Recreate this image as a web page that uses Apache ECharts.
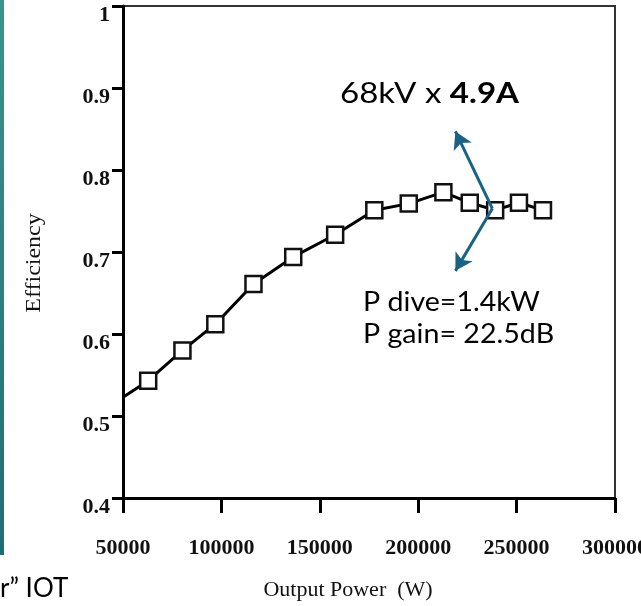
<!DOCTYPE html>
<html>
<head>
<meta charset="utf-8">
<script src="https://cdn.jsdelivr.net/npm/echarts@6/dist/echarts.min.js"></script>
<style>
html,body{margin:0;padding:0;background:#fff;}
#chart{width:641px;height:606px;}
</style>
</head>
<body>
<div id="chart"></div>
<script>
// Data
const powerW = [50000, 62800, 80200, 96900, 116300, 136500, 157800, 177700, 195200, 212800, 226200, 239100, 251200, 263400];
const efficiency = [0.523, 0.543, 0.580, 0.612, 0.661, 0.694, 0.721, 0.751, 0.759, 0.773, 0.760, 0.751, 0.760, 0.751];
const xTicks = [50000, 100000, 150000, 200000, 250000, 300000];
const yTicks = [0.4, 0.5, 0.6, 0.7, 0.8, 0.9, 1];
// Annotation arrows (data coordinates): vertex and two tips
const arrowVertex = [237700, 0.753];
const arrowTips = [[218900, 0.847], [218900, 0.677]];
const titleText = ['68kV x ', '4.9A'];
const noteLines = ['P dive=1.4kW', 'P gain= 22.5dB'];
const cornerText = 'r\u201D IOT';
const xName = 'Output Power  (W)';
const yName = 'Efficiency';

const chart = echarts.init(document.getElementById('chart'), null, {renderer: 'canvas'});

const seriesData = powerW.map((x, i) => {
  const item = {value: [x, efficiency[i]]};
  if (i === 0) item.symbol = 'none';
  return item;
});

const serif = '"Liberation Serif", "DejaVu Serif", serif';
const sans = 'Lato, "Open Sans", sans-serif';

chart.setOption({
  animation: false,
  backgroundColor: '#fff',
  grid: {
    left: 123, right: 26, top: 6, bottom: 108,
    outerBoundsMode: 'none',
    containLabel: false,
    show: true, borderColor: '#333', borderWidth: 2, backgroundColor: 'transparent'
  },
  xAxis: {
    type: 'value',
    min: xTicks[0], max: xTicks[xTicks.length - 1], interval: xTicks[1] - xTicks[0],
    axisLine: {show: true, onZero: false, lineStyle: {color: '#000', width: 3}},
    axisTick: {show: true, inside: false, length: 15, lineStyle: {color: '#000', width: 3}},
    splitLine: {show: false},
    axisLabel: {margin: 39, color: '#111', fontFamily: serif, fontSize: 22, fontWeight: 'bold',
      showMaxLabel: true, showMinLabel: true, hideOverlap: false, formatter: v => String(v)}
  },
  yAxis: {
    type: 'value',
    min: yTicks[0], max: yTicks[yTicks.length - 1], interval: 0.1,
    axisLine: {show: true, onZero: false, lineStyle: {color: '#000', width: 3}},
    axisTick: {show: true, inside: false, length: 11, lineStyle: {color: '#000', width: 3}},
    splitLine: {show: false},
    axisLabel: {margin: 13, color: '#111', fontFamily: serif, fontSize: 22, fontWeight: 'bold',
      verticalAlign: 'top', lineHeight: 18, hideOverlap: false}
  },
  series: [{
    type: 'line',
    data: seriesData,
    symbol: 'rect',
    symbolSize: 16,
    showAllSymbol: true,
    lineStyle: {color: '#000', width: 3},
    itemStyle: {color: '#fff', borderColor: '#111', borderWidth: 2.5},
    z: 3,
    markLine: {
      silent: true,
      symbol: ['none', 'arrow'],
      symbolSize: [15, 17],
      label: {show: false},
      lineStyle: {color: '#1a6285', width: 3, type: 'solid'},
      data: arrowTips.map(t => [{coord: arrowVertex}, {coord: t}]),
      z: 5
    }
  }],
  graphic: [
    {
      type: 'rect', x: 0, y: 0, z: 0,
      shape: {width: 4, height: 555},
      style: {fill: new echarts.graphic.LinearGradient(0, 0, 0, 1, [{offset: 0, color: '#3a948c'}, {offset: 1, color: '#1e6e76'}])}
    },
    {
      type: 'text', x: 340, y: 94, z: 10, scaleX: 1.14,
      style: {
        text: '{a|' + titleText[0] + '}{b|' + titleText[1] + '}',
        verticalAlign: 'middle', align: 'left',
        rich: {
          a: {fontFamily: sans, fontSize: 29, fill: '#000'},
          b: {fontFamily: sans, fontSize: 29, fontWeight: 'bold', fill: '#000'}
        }
      }
    },
    {
      type: 'text', x: 363, y: 303, z: 10, scaleX: 1.1,
      style: {text: noteLines[0], fontFamily: sans, fontSize: 26, fill: '#000', verticalAlign: 'middle', align: 'left'}
    },
    {
      type: 'text', x: 363, y: 335, z: 10, scaleX: 1.1,
      style: {text: noteLines[1], fontFamily: sans, fontSize: 26, fill: '#000', verticalAlign: 'middle', align: 'left'}
    },
    {
      type: 'text', x: 0, y: 589, z: 10,
      style: {text: cornerText, fontFamily: sans, fontSize: 26, fill: '#000', verticalAlign: 'middle', align: 'left'}
    },
    {
      type: 'text', x: 348, y: 590, z: 10,
      style: {text: xName, fontFamily: serif, fontSize: 22, fill: '#111', verticalAlign: 'middle', align: 'center'}
    },
    {
      type: 'text', x: 35, y: 263, z: 10, rotation: Math.PI / 2, scaleX: 1.2,
      style: {text: yName, fontFamily: serif, fontSize: 20, fill: '#111', verticalAlign: 'middle', align: 'center'}
    }
  ]
});
</script>
</body>
</html>
